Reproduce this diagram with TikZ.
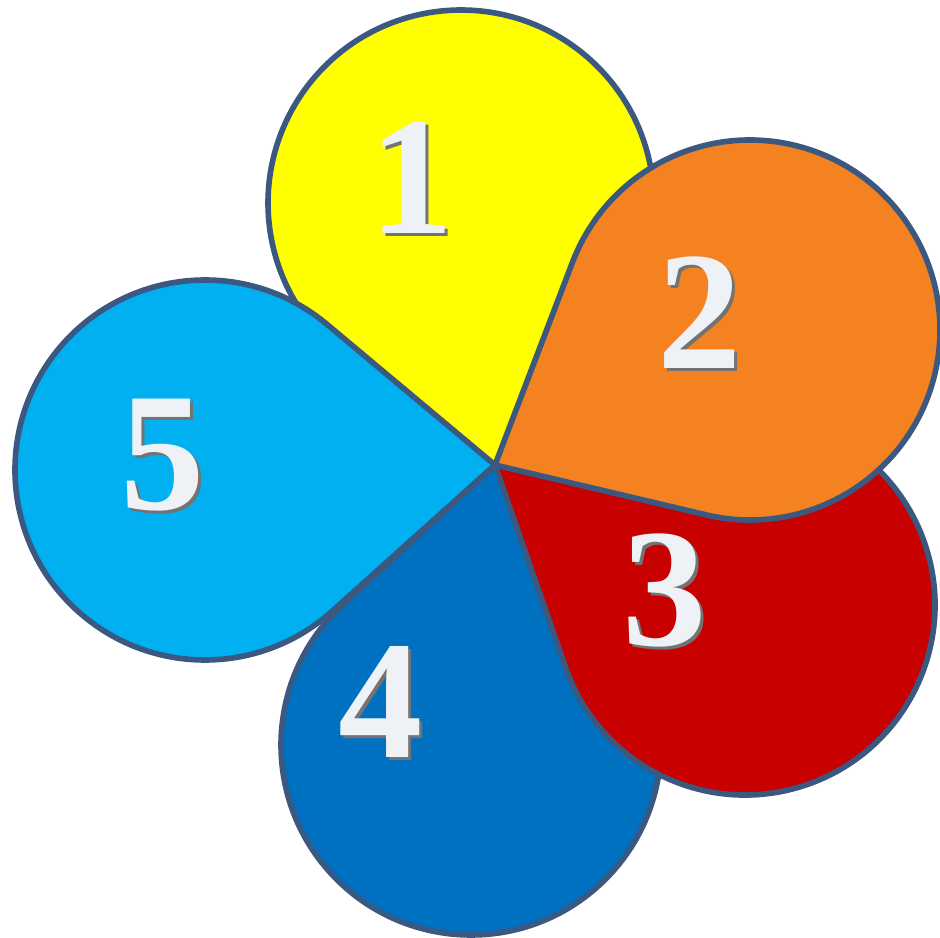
\documentclass[tikz,border=0pt]{standalone}
\usepackage{fontspec}
\setmainfont{Liberation Serif}
\usepackage{xcolor}
\usepackage{tikz}
\usetikzlibrary{calc}
\definecolor{petalyellow}{RGB}{255, 255, 0}
\definecolor{petalorange}{RGB}{245, 130, 32}
\definecolor{petalred}{RGB}{200, 0, 0}
\definecolor{petalblue}{RGB}{0, 112, 192}
\definecolor{petalsky}{RGB}{0, 176, 240}
\definecolor{edgeblue}{RGB}{58, 88, 128}
\definecolor{digitwhite}{RGB}{238, 241, 246}

% teardrop petal: #1 colour, #2/#3 centre of the round part, #4 radius
\newcommand{\drawpetal}[4]{%
  \pgfmathsetmacro{\pdx}{4.95-#2}
  \pgfmathsetmacro{\pdy}{4.72-#3}
  \pgfmathsetmacro{\pang}{atan2(\pdy,\pdx)}
  \pgfmathsetmacro{\pside}{acos(#4/veclen(\pdx,\pdy))}
  \draw[petal, fill=#1] (tip) -- ($(#2,#3)+(\pang+\pside:#4)$)
    arc[start angle=\pang+\pside, end angle=\pang+360-\pside, radius=#4] -- cycle;}

\begin{document}
\begin{tikzpicture}[
    petal/.style={draw=edgeblue, line width=1.6pt, line join=round},
    digit/.style={inner sep=0pt, text=digitwhite, font=\fontsize{48}{48}\selectfont\bfseries},
    digitshadow/.style={inner sep=0pt, text=black!55, font=\fontsize{48}{48}\selectfont\bfseries}]
    \useasboundingbox (0, 0) rectangle (9.40, 9.37);
    \coordinate (tip) at (4.95, 4.72);

    % petals, back to front
    \drawpetal{petalyellow}{4.61}{7.34}{1.93}
    \drawpetal{petalsky}{2.05}{4.67}{1.90}
    \drawpetal{petalblue}{4.71}{1.92}{1.90}
    \drawpetal{petalred}{7.45}{3.32}{1.90}
    \drawpetal{petalorange}{7.50}{6.07}{1.90}

    % numbers
    \node[digitshadow] (s1) at (4.15, 7.56) {1};
    \node[digit] (n1) at (4.12, 7.59) {1};
    \node[digitshadow] (s2) at (7.03, 6.21) {2};
    \node[digit] (n2) at (7.00, 6.24) {2};
    \node[digitshadow] (s3) at (6.68, 3.44) {3};
    \node[digit] (n3) at (6.65, 3.47) {3};
    \node[digitshadow] (s4) at (3.84, 2.32) {4};
    \node[digit] (n4) at (3.81, 2.35) {4};
    \node[digitshadow] (s5) at (1.66, 4.79) {5};
    \node[digit] (n5) at (1.63, 4.82) {5};
\end{tikzpicture}
\end{document}
